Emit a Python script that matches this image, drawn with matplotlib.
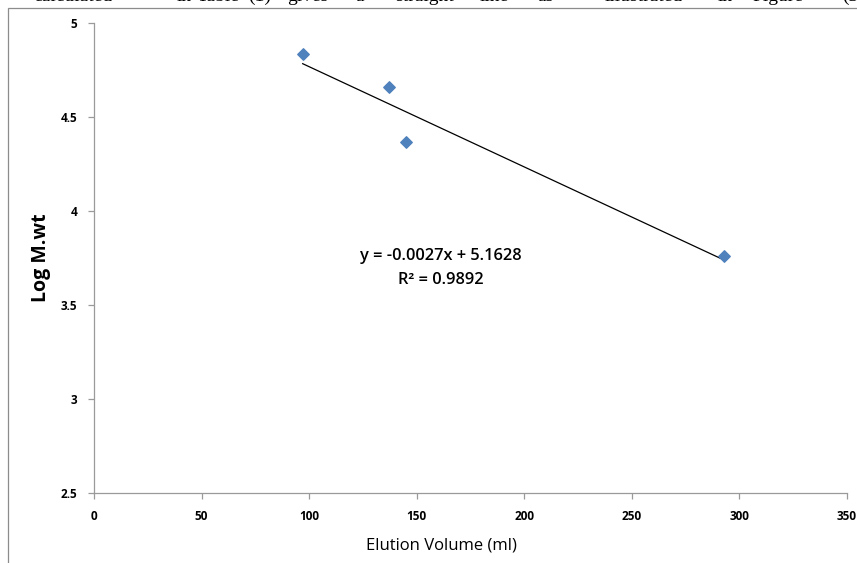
import numpy as np
import matplotlib.pyplot as plt
from matplotlib.patches import Rectangle

# DATA
elution_volume = [97, 137, 145, 293]
log_mwt = [4.835, 4.66, 4.365, 3.76]
x_ticks = [0, 50, 100, 150, 200, 250, 300, 350]
y_ticks = [2.5, 3, 3.5, 4, 4.5, 5]
eq_text = "y = -0.0027x + 5.1628"
r2_text = "R\u00b2 = 0.9892"
caption_words = ["calculated", "in", "Table", "(1)", "gives", "a", "straight", "line",
                 "as", "illustrated", "in", "Figure", "(3)"]
caption_x = [112, 177, 197, 248, 287, 355, 395, 480, 537, 605, 718, 752, 842]

W, H = 857, 563
fig = plt.figure(figsize=(W / 100, H / 100), dpi=100)

# justified text line of the page, cut off at the top edge
for i, (w, px) in enumerate(zip(caption_words, caption_x)):
    fig.text(px / W, 1 - 0.8 / H, w, fontsize=14, family="Liberation Serif",
             ha="right" if i == 0 else "left", va="baseline", color="black")

# chart frame
fig.patches.append(Rectangle((8 / W, -0.1), 1.2, 1 - 8 / H + 0.1, transform=fig.transFigure,
                             fill=False, edgecolor="#8c8c8c", linewidth=0.9))

ax = fig.add_axes([94 / W, 70 / H, (847 - 94) / W, (493 - 23) / H])
ax.scatter(elution_volume, log_mwt, marker="D", s=34, color="#4f81bd", zorder=3)

# linear trend line
coef = np.polyfit(elution_volume, log_mwt, 1)
xs = np.array([min(elution_volume), max(elution_volume)])
ax.plot(xs, np.polyval(coef, xs), color="black", linewidth=0.9)

ax.text(161, 3.76, eq_text, ha="center", va="center", fontsize=11.8,
        family="Open Sans", fontweight="semibold")
ax.text(161, 3.635, r2_text, ha="center", va="center", fontsize=11.8,
        family="Open Sans", fontweight="semibold")

ax.set_xlim(0, 350)
ax.set_ylim(2.5, 5)
ax.set_xticks(x_ticks)
ax.set_yticks(y_ticks)
ax.set_xticklabels([str(v) for v in x_ticks])
ax.set_yticklabels([("%g" % v) for v in y_ticks])
for s in ["top", "right"]:
    ax.spines[s].set_visible(False)
for s in ["left", "bottom"]:
    ax.spines[s].set_color("#9a9a9a")
    ax.spines[s].set_linewidth(0.9)
ax.tick_params(axis="both", direction="out", length=4, color="#9a9a9a", width=0.9,
               labelsize=8.5)
ax.tick_params(axis="x", pad=8.5)
ax.tick_params(axis="y", pad=8)
for lab in ax.get_xticklabels() + ax.get_yticklabels():
    lab.set_fontweight("bold")
    lab.set_family("Open Sans")

ax.set_xlabel("Elution Volume (ml)", fontsize=12, family="Open Sans")
ax.xaxis.set_label_coords((441 - 94) / (847 - 94), -(537 - 493) / (493 - 23))
ax.set_ylabel("Log M.wt", fontsize=14, family="Open Sans", fontweight="bold")
ax.yaxis.set_label_coords(-(94 - 51) / (847 - 94), 0.5)

fig.savefig("out.png", dpi=100)
